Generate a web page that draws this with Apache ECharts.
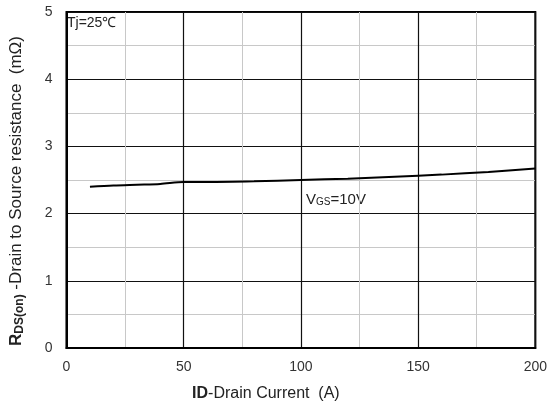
<!DOCTYPE html>
<html><head><meta charset="utf-8">
<script src="https://cdn.jsdelivr.net/npm/echarts@6/dist/echarts.min.js"></script>
<style>html,body{margin:0;padding:0;background:#fff}#c{width:550px;height:408px}</style>
</head><body><div id="c"></div>
<script>
const currentA = [10, 20, 30, 40, 50, 60, 80, 100, 120, 140, 160, 180, 200];
const rdsOn = [2.40, 2.42, 2.43, 2.44, 2.47, 2.47, 2.48, 2.50, 2.52, 2.55, 2.58, 2.62, 2.67];
const xTicks = [0, 50, 100, 150, 200];
const yTicks = [0, 1, 2, 3, 4, 5];

const FONT = 'Liberation Sans, Arial, sans-serif';
const chart = echarts.init(document.getElementById('c'));
chart.setOption({
  animation: false,
  grid: {left: 65, right: 14, top: 12, bottom: 60, show: true, borderColor: '#000', borderWidth: 2, backgroundColor: 'transparent'},
  xAxis: {
    type: 'value', min: xTicks[0], max: xTicks[xTicks.length - 1], interval: 50,
    axisLine: {show: true, lineStyle: {color: '#000', width: 2}},
    axisTick: {show: false},
    axisLabel: {color: '#333', fontSize: 14, fontFamily: FONT, margin: 12},
    splitLine: {show: true, lineStyle: {color: '#111', width: 1.2}},
    minorTick: {show: false, splitNumber: 2},
    minorSplitLine: {show: true, lineStyle: {color: '#c8c8c8', width: 1}},
    name: '{b|ID}{n|-Drain Current  (A)}', nameLocation: 'middle', nameGap: 38,
    nameTextStyle: {padding: [0, 70, 0, 0], rich: {
      b: {fontWeight: 'bold', fontSize: 16, color: '#222', fontFamily: FONT},
      n: {fontSize: 16, color: '#222', fontFamily: FONT}
    }}
  },
  yAxis: {
    type: 'value', min: yTicks[0], max: yTicks[yTicks.length - 1], interval: 1,
    axisLine: {show: true, lineStyle: {color: '#000', width: 2}},
    axisTick: {show: false},
    axisLabel: {color: '#333', fontSize: 14, fontFamily: FONT, margin: 14},
    splitLine: {show: true, lineStyle: {color: '#111', width: 1.2}},
    minorTick: {show: false, splitNumber: 2},
    minorSplitLine: {show: true, lineStyle: {color: '#c8c8c8', width: 1}},
    name: '{b|R}{s|DS(on)}{n| -Drain to Source resistance  (mΩ)}', nameLocation: 'middle', nameGap: 41, nameRotate: 90,
    nameTextStyle: {padding: [0, 22, 0, 0], rich: {
      b: {fontWeight: 'bold', fontSize: 17, color: '#222', fontFamily: FONT},
      s: {fontWeight: 'bold', fontSize: 12, color: '#222', fontFamily: FONT, padding: [6, 0, 0, 0]},
      n: {fontSize: 17, color: '#222', fontFamily: FONT}
    }}
  },
  series: [{
    type: 'line', data: currentA.map((x, i) => [x, rdsOn[i]]),
    showSymbol: false, smooth: 0.3,
    lineStyle: {color: '#000', width: 2}
  }],
  graphic: [
    {type: 'text', left: 67, top: 16, style: {text: 'Tj=25℃', fontSize: 14, fill: '#222', fontFamily: FONT}},
    {type: 'text', left: 306, top: 192, style: {
      text: '{n|V}{s|GS}{n|=10V}',
      rich: {
        n: {fontSize: 15, fill: '#222', fontFamily: FONT},
        s: {fontSize: 10, fill: '#222', fontFamily: FONT, padding: [6, 0, 0, 0]}
      }
    }}
  ]
});
</script></body></html>
